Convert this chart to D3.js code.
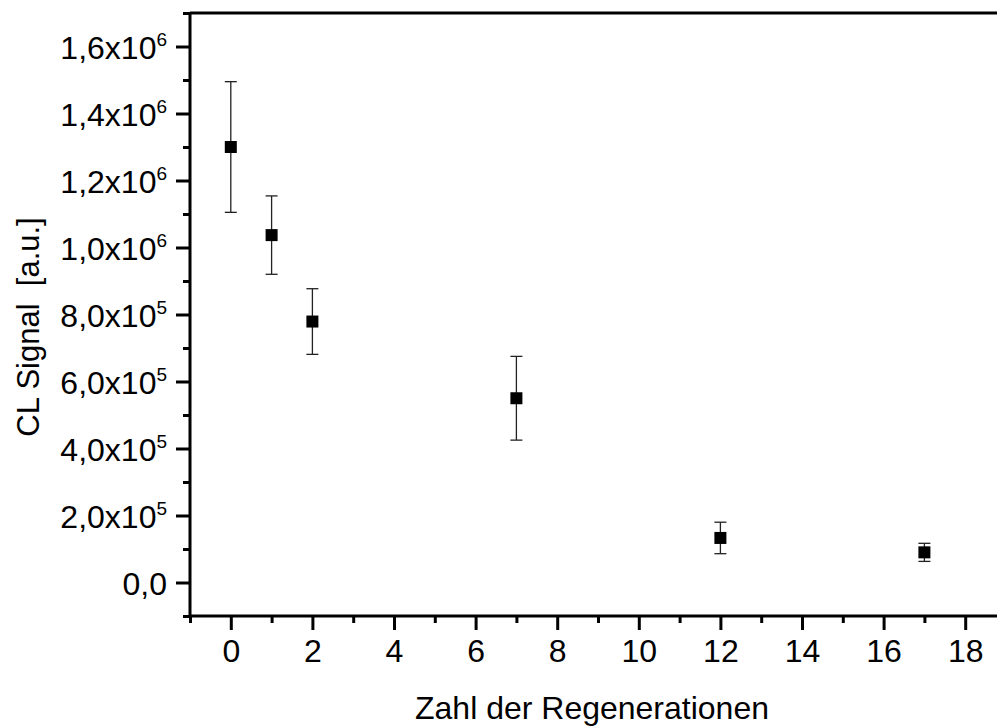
<!DOCTYPE html>
<html>
<head>
<meta charset="utf-8">
<script src="https://cdn.jsdelivr.net/npm/d3@7"></script>
<style>
  html, body { margin: 0; padding: 0; background: #fff; }
  svg { display: block; font-family: Arial, "Liberation Sans", sans-serif; }
  .ttl { white-space: pre; }
</style>
</head>
<body>
<svg id="chart" width="997" height="727"></svg>
<script>
// Regeneration cycles and measured chemiluminescence signal (mean ± error)
const regenerations = [0, 1, 2, 7, 12, 17];
const signal = [1.30e6, 1.037e6, 7.79e5, 5.50e5, 1.33e5, 0.90e5];
const signalErr = [1.95e5, 1.17e5, 0.98e5, 1.25e5, 0.47e5, 0.27e5];

// Tick definitions
const xMajorTicks = [0, 2, 4, 6, 8, 10, 12, 14, 16, 18];
const xMinorTicks = [-1, 1, 3, 5, 7, 9, 11, 13, 15, 17, 19];
const yMajorTicks = [0, 2e5, 4e5, 6e5, 8e5, 1.0e6, 1.2e6, 1.4e6, 1.6e6];
const yMinorTicks = [-1e5, 1e5, 3e5, 5e5, 7e5, 9e5, 1.1e6, 1.3e6, 1.5e6, 1.7e6];
const yTickMantissa = ["0,0", "2,0", "4,0", "6,0", "8,0", "1,0", "1,2", "1,4", "1,6"];
const yTickExponent = [null, "5", "5", "5", "5", "6", "6", "6", "6"];

const svg = d3.select("#chart");

const x = d3.scaleLinear().domain([-1, 19]).range([190, 1006]);
const y = d3.scaleLinear().domain([-1e5, 1.7e6]).range([616, 13]);

const axisColor = "#000";
const tickFont = 32;
const fontStack = "Arial, 'Liberation Sans', sans-serif";

// Frame top line
const frame = svg.append("g").attr("stroke", axisColor).attr("stroke-width", 3).attr("fill", "none");
frame.append("line").attr("x1", x(-1)).attr("x2", x(19)).attr("y1", y(1.7e6)).attr("y2", y(1.7e6));

// Bottom axis
const gx = svg.append("g").attr("transform", `translate(0,${y(-1e5)})`);
gx.append("g").call(d3.axisBottom(x).tickValues(xMinorTicks).tickSize(7).tickFormat("").tickSizeOuter(0))
  .call(g => g.select(".domain").remove());
gx.append("g").call(d3.axisBottom(x).tickValues(xMajorTicks).tickSize(14).tickPadding(9).tickSizeOuter(0))
  .call(g => g.select(".domain").attr("stroke-width", 3).attr("d", `M${x(-1)},0H${x(19)}`));
gx.selectAll(".tick line").attr("stroke-width", 3);
gx.selectAll(".tick text").attr("font-size", tickFont).attr("fill", "#000").attr("font-family", fontStack);

// Left axis
const gy = svg.append("g").attr("transform", `translate(${x(-1)},0)`);
gy.append("g").call(d3.axisLeft(y).tickValues(yMinorTicks).tickSize(7).tickFormat("").tickSizeOuter(0))
  .call(g => g.select(".domain").remove());
const gyMajor = gy.append("g").call(d3.axisLeft(y).tickValues(yMajorTicks).tickSize(14).tickPadding(9).tickFormat("").tickSizeOuter(0))
  .call(g => g.select(".domain").attr("stroke-width", 3).attr("d", `M0,${y(-1e5)}V${y(1.7e6)}`));
gy.selectAll(".tick line").attr("stroke-width", 3);

// Tick labels in scientific notation with superscript exponents
gyMajor.selectAll(".tick text").each(function(d, i) {
  const t = d3.select(this).text(null)
    .attr("font-size", tickFont).attr("fill", "#000")
    .attr("dy", "0.37em")
    .attr("font-family", fontStack);
  if (yTickExponent[i]) {
    t.append("tspan").text(yTickMantissa[i] + "x10");
    t.append("tspan").attr("font-size", 19).attr("dy", "-0.7em").text(yTickExponent[i]);
  } else {
    t.append("tspan").text(yTickMantissa[i]);
  }
});

// Error bars
const capHalf = 6;
const eb = svg.append("g").attr("stroke", "#222").attr("stroke-width", 1.3).attr("fill", "none");
regenerations.forEach((r, i) => {
  const cx = x(r), top = y(signal[i] + signalErr[i]), bot = y(signal[i] - signalErr[i]);
  eb.append("line").attr("x1", cx).attr("x2", cx).attr("y1", top).attr("y2", bot);
  eb.append("line").attr("x1", cx - capHalf).attr("x2", cx + capHalf).attr("y1", top).attr("y2", top);
  eb.append("line").attr("x1", cx - capHalf).attr("x2", cx + capHalf).attr("y1", bot).attr("y2", bot);
});

// Square markers
const ms = 12;
svg.append("g").selectAll("rect").data(regenerations).join("rect")
  .attr("x", d => x(d) - ms / 2)
  .attr("y", (d, i) => y(signal[i]) - ms / 2)
  .attr("width", ms).attr("height", ms)
  .attr("fill", "#000");

// Axis titles
svg.append("text").attr("class", "ttl")
  .attr("x", 592).attr("y", 719)
  .attr("text-anchor", "middle").attr("font-size", 32).attr("fill", "#000")
  .text("Zahl der Regenerationen");

svg.append("text").attr("class", "ttl")
  .attr("transform", "translate(39,327) rotate(-90)")
  .attr("text-anchor", "middle").attr("font-size", 31).attr("fill", "#000")
  .text("CL Signal  [a.u.]");
</script>
</body>
</html>
